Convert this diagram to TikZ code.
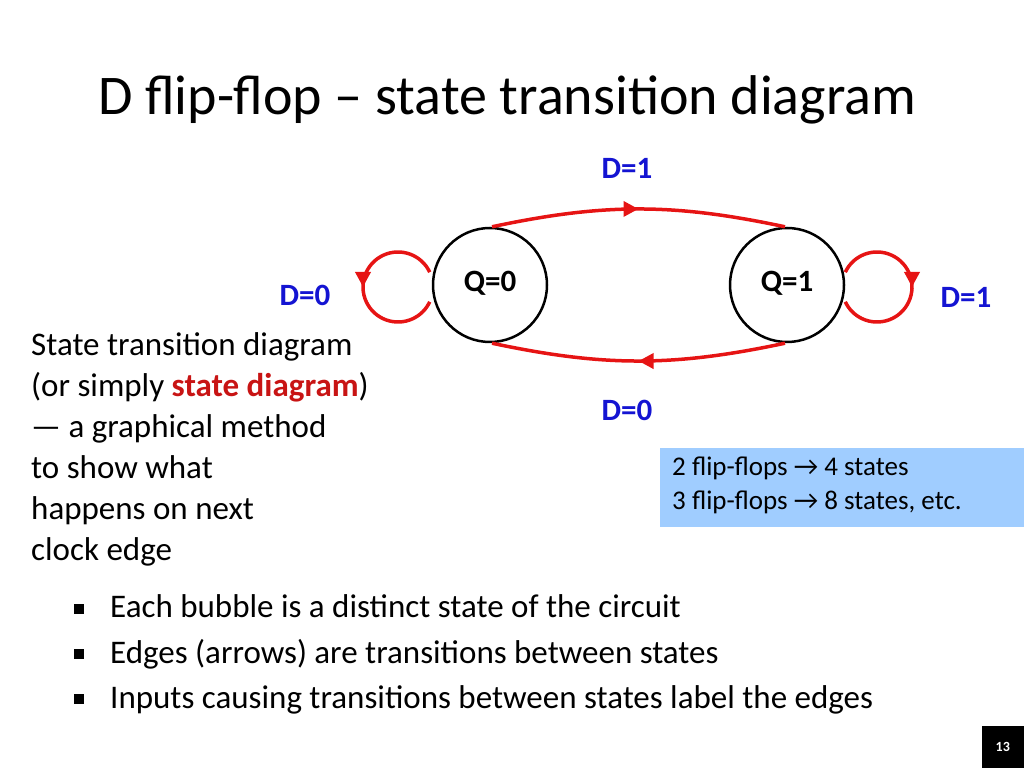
\documentclass[tikz,border=0pt]{standalone}
\usepackage{fontspec}
\setmainfont{Carlito}
\usetikzlibrary{arrows.meta,decorations.markings,calc}
\definecolor{edgered}{RGB}{230,20,20}
\definecolor{lblblue}{RGB}{20,20,210}
\definecolor{notebox}{RGB}{160,205,255}
\definecolor{darkred}{RGB}{200,20,20}
\begin{document}
\begin{tikzpicture}[x=1pt,y=1pt,
    state/.style={circle,draw,line width=2.5pt,minimum size=114pt,inner sep=0pt,font=\bfseries\fontsize{31}{34}\selectfont},
    trans/.style={draw=edgered,line width=3.5pt,postaction={decorate},
      decoration={markings,mark=at position #1 with {\arrow{Triangle[length=15pt,width=15pt]}}}},
    trans/.default=0.5,
    lbl/.style={text=lblblue,font=\bfseries\fontsize{31}{34}\selectfont},
    body/.style={font=\fontsize{33}{41}\selectfont,anchor=north west,align=left,inner sep=0pt}]
  \useasboundingbox (0,0) rectangle (1024,768);
  % title
  \node[anchor=base west,inner sep=0pt,font=\fontsize{56}{60}\selectfont] (title) at (98,653) {D flip-flop – state transition diagram};
  % states
  \node[state] (q0) at (490,483) {\raisebox{8pt}{Q=0}};
  \node[state] (q1) at (787,483) {\raisebox{8pt}{Q=1}};
  % transitions
  \path[trans] (q0.88) to[out=12,in=168] (q1.92);
  \path[trans] (q1.268) to[out=192,in=-12] (q0.272);
  \path[trans] ($(q0)+(-92,-2)$) ++(25:35) arc[start angle=25,end angle=335,radius=35];
  \path[trans] ($(q1)+(90,-2)$) ++(155:35) arc[start angle=155,end angle=-155,radius=35];
  % labels
  \node[lbl] (d1top) at (627,600) {D=1};
  \node[lbl] (d0left) at (305,473) {D=0};
  \node[lbl] (d1right) at (966,471) {D=1};
  \node[lbl] (d0bot) at (627,358) {D=0};
  % note box
  \node[fill=notebox,minimum width=364pt,minimum height=79pt,anchor=north west,inner sep=0pt] (note) at (660,320) {};
  \node[anchor=north west,align=left,inner sep=0pt,font=\fontsize{27}{34}\selectfont] (notetext) at (672,311)
    {2 flip-flops → 4 states\\3 flip-flops → 8 states, etc.};
  % explanation
  \node[body] (expl) at (31,436) {State transition diagram\\(or simply \textcolor{darkred}{\bfseries state diagram})\\— a graphical method\\to show what\\happens on next\\clock edge};
  % bullets
  \foreach \t [count=\i] in {Each bubble is a distinct state of the circuit,
      Edges (arrows) are transitions between states,
      Inputs causing transitions between states label the edges} {
    \node[anchor=base west,inner sep=0pt,font=\fontsize{33}{36}\selectfont] (b\i) at (110,195-45*\i) {\t};
    \fill ($(b\i.base west)+(-36,4)$) rectangle ++(10,10);
  }
  % page number
  \node[fill=black,text=white,minimum size=42pt,inner sep=0pt,anchor=south east,font=\bfseries\fontsize{14}{16}\selectfont] (page) at (1024,0) {13};
\end{tikzpicture}
\end{document}
